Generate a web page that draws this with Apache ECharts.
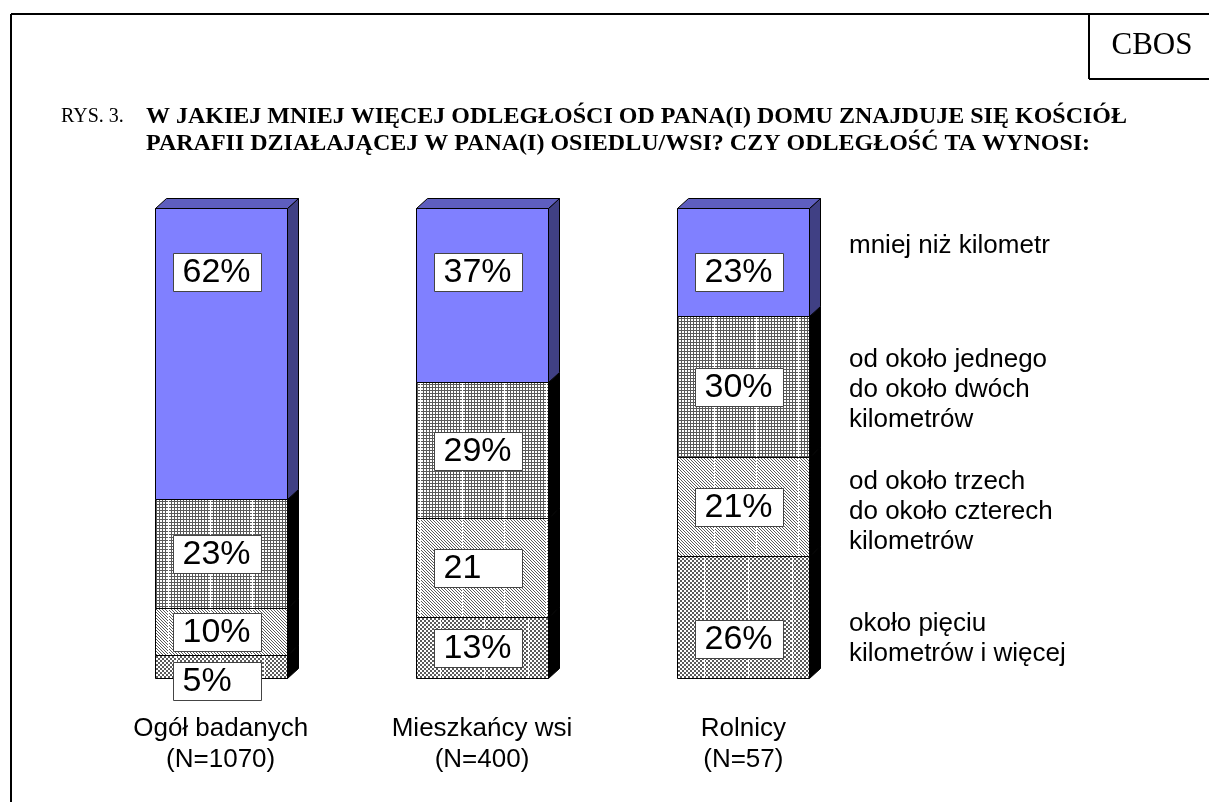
<!DOCTYPE html>
<html>
<head>
<meta charset="utf-8">
<script src="https://cdn.jsdelivr.net/npm/echarts/dist/echarts.min.js"></script>
<style>
html,body{margin:0;padding:0;background:#fff;}
#chart{width:1209px;height:802px;}
</style>
</head>
<body>
<div id="chart"></div>
<script>
// dane
const categories = ['Ogół badanych\n(N=1070)', 'Mieszkańcy wsi\n(N=400)', 'Rolnicy\n(N=57)'];
const answers = [
    'mniej niż kilometr',
    'od około jednego\ndo około dwóch\nkilometrów',
    'od około trzech\ndo około czterech\nkilometrów',
    'około pięciu\nkilometrów i więcej'
];
const lessThan1km = [62, 37, 23];
const from1to2km = [23, 29, 30];
const from3to4km = [10, 21, 21];
const over5km = [5, 13, 26];

// od dołu słupka do góry
const stackOrder = [over5km, from3to4km, from1to2km, lessThan1km];

// przesunięcia etykiet (jak w oryginale) i etykieta bez "%"
const labelNudge = {'0,0': 14, '0,2': 21};
const noPercent = {'1,1': true};

const FONT = 'Arial, "Liberation Sans", sans-serif';
const SERIF = '"Times New Roman", "Liberation Serif", serif';

function tile(kind) {
    const size = kind === 'checker' ? 44 : 42;
    const c = document.createElement('canvas');
    c.width = size; c.height = size;
    const g = c.getContext('2d');
    g.fillStyle = '#fff';
    g.fillRect(0, 0, size, size);
    g.fillStyle = '#5a5a5a';
    for (let y = 0; y < size; y++) {
        for (let x = 0; x < size; x++) {
            let on = false;
            if (kind === 'grid') on = (x % 3 === 0 || y % 3 === 0);
            if (kind === 'hatch') on = ((x - y + size) % 3 === 0);
            if (kind === 'checker') on = (((x >> 1) + (y >> 1)) % 2 === 0);
            if (on) g.fillRect(x, y, 1, 1);
        }
    }
    g.fillStyle = '#fff';
    g.fillRect(0, 0, 1, size);
    return c;
}

const faces = [
    {front: {image: tile('checker'), repeat: 'repeat'}, side: '#000'},
    {front: {image: tile('hatch'), repeat: 'repeat'}, side: '#000'},
    {front: {image: tile('grid'), repeat: 'repeat'}, side: '#000'},
    {front: '#8080ff', side: '#404084', top: '#5e5ebf'}
];

const dx = 11, dy = 10;

function makeSeries(k) {
    const data = [];
    for (let i = 0; i < categories.length; i++) {
        let base = 0;
        for (let j = 0; j < k; j++) base += stackOrder[j][i];
        data.push([i, base, base + stackOrder[k][i], stackOrder[k][i]]);
    }
    const isTop = k === stackOrder.length - 1;
    return {
        type: 'custom',
        name: answers[stackOrder.length - 1 - k],
        data: data,
        encode: {x: 0, y: [1, 2]},
        renderItem: function (params, api) {
            const cat = api.value(0);
            const t = api.coord([cat, api.value(2)]);
            const b = api.coord([cat, api.value(1)]);
            const w = Math.round(api.size([1, 0])[0] * 0.505);
            const L = Math.round(t[0] - w / 2) + 0.5;
            const R = L + w;
            const yT = Math.round(t[1]) + 0.5;
            const yB = Math.round(b[1]) + 0.5;
            const f = faces[k];
            const children = [
                {
                    type: 'polygon',
                    shape: {points: [[R, yT], [R + dx, yT - dy], [R + dx, yB - dy], [R, yB]]},
                    style: {fill: f.side, stroke: '#000', lineWidth: 1}
                },
                {
                    type: 'rect',
                    shape: {x: L, y: yT, width: w, height: yB - yT},
                    style: {fill: f.front, stroke: '#000', lineWidth: 1}
                }
            ];
            if (isTop) {
                children.push({
                    type: 'polygon',
                    shape: {points: [[L, yT], [L + dx, yT - dy], [R + dx, yT - dy], [R, yT]]},
                    style: {fill: f.top, stroke: '#000', lineWidth: 1}
                });
            }
            const key = k + ',' + cat;
            let cy = isTop ? yT + 44 + 19 : (yT + yB) / 2 + (labelNudge[key] || 0);
            cy = Math.round(cy);
            const txt = api.value(3) + (noPercent[key] ? '' : '%');
            children.push({
                type: 'rect',
                z2: 10,
                shape: {x: L + 18, y: cy - 19 + 0.5, width: 88, height: 38},
                style: {fill: '#fff', stroke: '#444', lineWidth: 1}
            });
            children.push({
                type: 'text',
                z2: 11,
                style: {
                    x: L + 27, y: cy + 1,
                    text: txt,
                    font: '34px ' + FONT,
                    fill: '#000',
                    align: 'left',
                    verticalAlign: 'middle'
                }
            });
            return {type: 'group', children: children};
        }
    };
}

const series = [];
for (let k = 0; k < stackOrder.length; k++) series.push(makeSeries(k));

const legendY = [246, 390, 512, 639];

const graphic = [
    {type: 'line', shape: {x1: 11, y1: 14, x2: 1209, y2: 14}, style: {stroke: '#000', lineWidth: 2}},
    {type: 'line', shape: {x1: 11, y1: 14, x2: 11, y2: 802}, style: {stroke: '#000', lineWidth: 2}},
    {type: 'line', shape: {x1: 1089, y1: 14, x2: 1089, y2: 79}, style: {stroke: '#000', lineWidth: 2}},
    {type: 'line', shape: {x1: 1089, y1: 79, x2: 1209, y2: 79}, style: {stroke: '#000', lineWidth: 2}},
    {type: 'text', style: {x: 1152, y: 46, text: 'CBOS', font: '31px ' + SERIF, fill: '#000', align: 'center', verticalAlign: 'middle'}},
    {type: 'text', style: {x: 61, y: 117, text: 'RYS. 3.', font: '20px ' + SERIF, fill: '#000', verticalAlign: 'middle'}},
    {type: 'text', style: {x: 146, y: 117, text: 'W JAKIEJ MNIEJ WIĘCEJ ODLEGŁOŚCI OD PANA(I) DOMU ZNAJDUJE SIĘ KOŚCIÓŁ', font: 'bold 24px ' + SERIF, fill: '#000', verticalAlign: 'middle'}},
    {type: 'text', style: {x: 146, y: 144, text: 'PARAFII DZIAŁAJĄCEJ W PANA(I) OSIEDLU/WSI? CZY ODLEGŁOŚĆ TA WYNOSI:', font: 'bold 24px ' + SERIF, fill: '#000', verticalAlign: 'middle'}}
];
answers.forEach(function (a, i) {
    graphic.push({
        type: 'text',
        style: {x: 849, y: legendY[i], text: a, font: '26px ' + FONT, lineHeight: 30, fill: '#000', verticalAlign: 'middle'}
    });
});

const chart = echarts.init(document.getElementById('chart'), null, {renderer: 'canvas'});
chart.setOption({
    animation: false,
    backgroundColor: '#fff',
    grid: {left: 90, right: 335, top: 208, bottom: 124},
    xAxis: {
        type: 'category',
        data: categories,
        axisLine: {show: false},
        axisTick: {show: false},
        axisLabel: {
            margin: 35,
            fontSize: 26,
            fontFamily: FONT,
            lineHeight: 31,
            color: '#000'
        }
    },
    yAxis: {
        type: 'value',
        min: 0,
        max: 100,
        show: false
    },
    series: series,
    graphic: graphic
});
</script>
</body>
</html>
